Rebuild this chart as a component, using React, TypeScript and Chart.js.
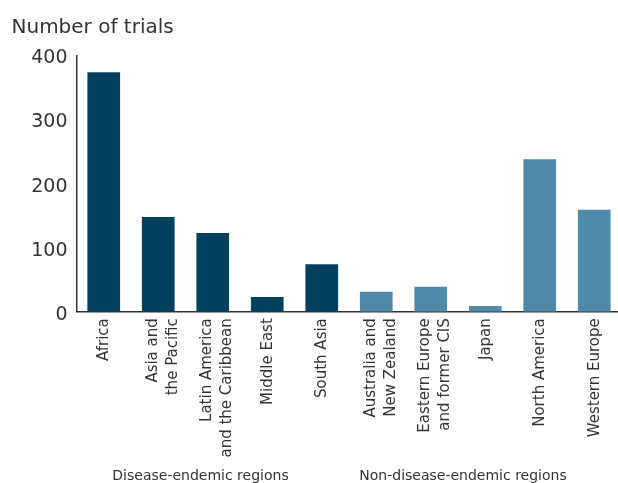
import React, { useEffect, useRef } from "react";
import { Chart, registerables } from "chart.js";

Chart.register(...registerables);

const chartTitle = "Number of trials";
const categories: string[][] = [
  ["Africa"],
  ["Asia and", "the Pacific"],
  ["Latin America", "and the Caribbean"],
  ["Middle East"],
  ["South Asia"],
  ["Australia and", "New Zealand"],
  ["Eastern Europe", "and former CIS"],
  ["Japan"],
  ["North America"],
  ["Western Europe"],
];
const trials = [374, 148, 123, 23, 74, 31, 39, 9, 238, 159];
const regionGroup = [0, 0, 0, 0, 0, 1, 1, 1, 1, 1];
const groupLabels = ["Disease-endemic regions", "Non-disease-endemic regions"];
const yMin = 0;
const yMax = 400;
const yStep = 100;

const groupColors = ["#03405e", "#4f8ba9"];
const FONT = "'DejaVu Sans', sans-serif";
const TEXT = "#333333";

const textPlugin = {
  id: "extraTexts",
  afterDraw(chart: any) {
    const ctx = chart.ctx as CanvasRenderingContext2D;
    const xScale = chart.scales.x;
    ctx.save();
    ctx.fillStyle = TEXT;
    // title
    ctx.font = `20px ${FONT}`;
    ctx.textAlign = "left";
    ctx.textBaseline = "alphabetic";
    ctx.fillText(chartTitle, 11.5, 32.5);
    // rotated category labels
    ctx.font = `15px ${FONT}`;
    const top = xScale.top + 6.5;
    categories.forEach((lines, i) => {
      const px = xScale.getPixelForTick(i);
      const offsets = lines.length === 1 ? [4.5] : [-1.3, 18.5];
      lines.forEach((line, j) => {
        ctx.save();
        ctx.translate(px + offsets[j], top);
        ctx.rotate(-Math.PI / 2);
        ctx.textAlign = "right";
        ctx.textBaseline = "alphabetic";
        ctx.fillText(line, 0, 0);
        ctx.restore();
      });
    });
    // group labels
    ctx.font = `14px ${FONT}`;
    ctx.textAlign = "center";
    ctx.textBaseline = "alphabetic";
    ctx.fillText(groupLabels[0], 200.5, 480);
    ctx.fillText(groupLabels[1], 463, 480);
    ctx.restore();
  },
};

export default function App() {
  const ref = useRef<HTMLCanvasElement | null>(null);
  useEffect(() => {
    if (!ref.current) return;
    const chart = new Chart(ref.current, {
      type: "bar",
      data: {
        labels: categories.map((c) => c.join(" ")),
        datasets: [
          {
            data: trials,
            backgroundColor: regionGroup.map((g) => groupColors[g]),
            borderWidth: 0,
            categoryPercentage: 1,
            barPercentage: 0.6,
          },
        ],
      },
      options: {
        animation: false,
        responsive: true,
        maintainAspectRatio: false,
        layout: { padding: { top: 55.5, left: 0, right: 0.5, bottom: 0 } },
        plugins: {
          legend: { display: false },
          title: { display: false },
          tooltip: { enabled: false },
        },
        scales: {
          x: {
            grid: { display: false, drawTicks: false },
            border: { display: true, color: TEXT, width: 1.5 },
            ticks: { display: false, autoSkip: false },
            afterFit: (scale: any) => {
              scale.height = 171.3;
            },
          },
          y: {
            min: yMin,
            max: yMax,
            grid: { display: false, drawTicks: false },
            border: { display: true, color: TEXT, width: 1.5 },
            ticks: {
              stepSize: yStep,
              padding: 9,
              labelOffset: 3,
              color: TEXT,
              font: { family: FONT, size: 19 },
            },
            afterFit: (scale: any) => {
              scale.width = 76.5;
            },
          },
        },
      },
      plugins: [textPlugin],
    });
    return () => chart.destroy();
  }, []);
  return (
    <div style={{ position: "fixed", left: 0, top: 0, width: 622, height: 483 }}>
      <canvas ref={ref} />
    </div>
  );
}
